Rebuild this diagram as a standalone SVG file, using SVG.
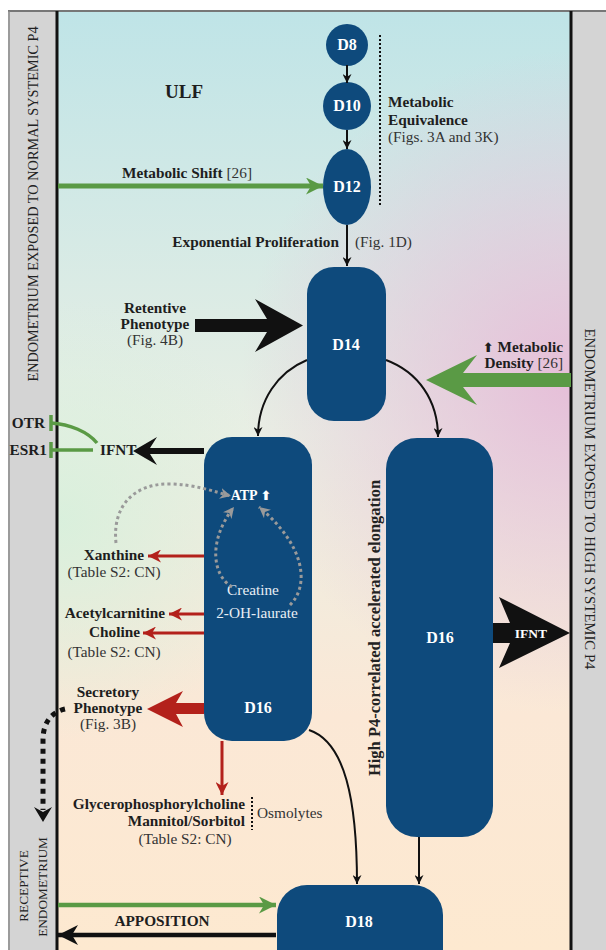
<svg xmlns="http://www.w3.org/2000/svg" width="606" height="950" viewBox="0 0 606 950">
<defs>
<style>
.t{font-family:"Liberation Serif","Times New Roman",serif;fill:#1e1e1e;font-size:15.3px}
.b{font-weight:bold}
.n{font-weight:normal;fill:#333}
.w{fill:#fff;font-weight:bold}
.node{fill:#0e4a7c}
.c{fill:none;stroke:#111;stroke-width:2}
.red{fill:none;stroke:#b3211b;stroke-width:3}
.gd{fill:none;stroke:#9a9a9a;stroke-width:3;stroke-dasharray:3 3}
.band{font-family:"Liberation Serif","Times New Roman",serif;fill:#222;font-size:14.3px}
</style>
<linearGradient id="bg" x1="0" y1="0" x2="0" y2="1">
<stop offset="0" stop-color="#bfe4e7"/>
<stop offset="0.45" stop-color="#e9efe4"/>
<stop offset="0.75" stop-color="#fbe8d6"/>
<stop offset="1" stop-color="#fde9d0"/>
</linearGradient>
<radialGradient id="pink" cx="571" cy="380" r="330" gradientUnits="userSpaceOnUse">
<stop offset="0" stop-color="#e6bcd8" stop-opacity="0.95"/>
<stop offset="1" stop-color="#e6bcd8" stop-opacity="0"/>
</radialGradient>
<radialGradient id="grn" cx="60" cy="520" r="220" gradientUnits="userSpaceOnUse">
<stop offset="0" stop-color="#d7f0dc" stop-opacity="0.9"/>
<stop offset="1" stop-color="#d7f0dc" stop-opacity="0"/>
</radialGradient>
<marker id="ah" viewBox="0 0 10 10" refX="10" refY="5" markerWidth="9" markerHeight="9" markerUnits="userSpaceOnUse" orient="auto">
<path d="M0,0 L10,5 L0,10 L3,5 Z" fill="#111"/>
</marker>
<marker id="ar" viewBox="0 0 10 10" refX="10" refY="5" markerWidth="15" markerHeight="13" markerUnits="userSpaceOnUse" orient="auto">
<path d="M0,0 L10,5 L0,10 L3,5 Z" fill="#b3211b"/>
</marker>
<marker id="ag" viewBox="0 0 10 10" refX="10" refY="5" markerWidth="11" markerHeight="11" markerUnits="userSpaceOnUse" orient="auto">
<path d="M0,0 L10,5 L0,10 L3,5 Z" fill="#9a9a9a"/>
</marker>
<marker id="agr" viewBox="0 0 10 10" refX="10" refY="5" markerWidth="20" markerHeight="17" markerUnits="userSpaceOnUse" orient="auto">
<path d="M0,0 L10,5 L0,10 L3,5 Z" fill="#5a9a45"/>
</marker>
<marker id="abk" viewBox="0 0 10 10" refX="10" refY="5" markerWidth="20" markerHeight="20" markerUnits="userSpaceOnUse" orient="auto">
<path d="M0,0 L10,5 L0,10 L3,5 Z" fill="#111"/>
</marker>
</defs>

<g id="frame">
<rect x="0" y="0" width="606" height="950" fill="#fff"/>
<rect x="57" y="11" width="514" height="939" fill="url(#bg)"/>
<rect x="57" y="11" width="514" height="939" fill="url(#pink)"/>
<rect x="57" y="11" width="514" height="939" fill="url(#grn)"/>
<rect x="8" y="11" width="49" height="939" fill="#d4d4d4"/>
<rect x="571" y="11" width="35" height="939" fill="#d4d4d4"/>
<line x1="8" y1="11" x2="606" y2="11" stroke="#777" stroke-width="2"/>
<line x1="9" y1="11" x2="9" y2="950" stroke="#888" stroke-width="1.5"/>
<line x1="57" y1="11" x2="57" y2="950" stroke="#111" stroke-width="3"/>
<line x1="571" y1="11" x2="571" y2="950" stroke="#111" stroke-width="3"/>
<text class="band" transform="translate(38,204) rotate(-90)" text-anchor="middle">ENDOMETRIUM EXPOSED TO NORMAL SYSTEMIC P4</text>
<text class="band" style="font-size:14.8px" transform="translate(585,499) rotate(90)" text-anchor="middle">ENDOMETRIUM EXPOSED TO HIGH SYSTEMIC P4</text>
<text class="band" style="font-size:13.3px" transform="translate(28,886) rotate(-90)" text-anchor="middle">RECEPTIVE</text>
<text class="band" style="font-size:13.3px" transform="translate(47,887) rotate(-90)" text-anchor="middle">ENDOMETRIUM</text>
</g>

<g id="D8"><circle class="node" cx="347" cy="45" r="21"/><text class="t w" x="347" y="50" text-anchor="middle" style="font-size:16px">D8</text></g>
<g id="D10"><circle class="node" cx="347" cy="106" r="24"/><text class="t w" x="347" y="111" text-anchor="middle" style="font-size:16px">D10</text></g>
<g id="D12"><ellipse class="node" cx="347" cy="187" rx="24" ry="38"/><text class="t w" x="347" y="192" text-anchor="middle" style="font-size:16px">D12</text></g>
<g id="D14"><rect class="node" x="307" y="267" width="79" height="154" rx="27"/><text class="t w" x="346" y="350" text-anchor="middle" style="font-size:16px">D14</text></g>
<g id="D16a"><rect class="node" x="204" y="437" width="108" height="304" rx="28"/><text class="t w" x="258" y="713" text-anchor="middle" style="font-size:16px">D16</text>
<text class="t w" x="251" y="500" text-anchor="middle" style="font-size:14px">ATP <tspan font-family="DejaVu Sans,sans-serif" font-size="13">⬆</tspan></text>
<text class="t" x="253" y="595" text-anchor="middle" style="fill:#e8eef5">Creatine</text>
<text class="t" x="257" y="618" text-anchor="middle" style="fill:#e8eef5">2-OH-laurate</text></g>
<g id="D16b"><rect class="node" x="386" y="438" width="107" height="399" rx="31"/><text class="t w" x="440" y="643" text-anchor="middle" style="font-size:16px">D16</text></g>
<g id="D18"><rect class="node" x="277" y="885" width="166" height="100" rx="30"/><text class="t w" x="359" y="927" text-anchor="middle" style="font-size:16px">D18</text></g>

<g id="connectors">
<line class="c" x1="347" y1="65" x2="347" y2="83" marker-end="url(#ah)"/>
<line class="c" x1="347" y1="130" x2="347" y2="149" marker-end="url(#ah)"/>
<line class="c" x1="347" y1="225" x2="347" y2="266" marker-end="url(#ah)"/>
<path class="c" d="M307,360 C278,372 258,400 258,436" marker-end="url(#ah)"/>
<path class="c" d="M386,360 C418,372 438,400 438,437" marker-end="url(#ah)"/>
<path class="c" d="M309,730 C345,742 357,800 357,884" marker-end="url(#ah)"/>
<line class="c" x1="419" y1="837" x2="419" y2="884" marker-end="url(#ah)"/>
<line x1="380" y1="35" x2="380" y2="207" stroke="#111" stroke-width="2" stroke-dasharray="2 2"/>
<line x1="252" y1="797" x2="252" y2="830" stroke="#111" stroke-width="2" stroke-dasharray="2 2"/>
<line x1="58" y1="186" x2="323" y2="186" stroke="#5a9a45" stroke-width="5" marker-end="url(#agr)"/>
<path d="M195,319 H267 L255,299 L303,325.5 L255,352 L267,332 H195 Z" fill="#111"/>
<path d="M571,373 H463 L477,355 L426,380 L477,405 L463,387 H571 Z" fill="#5a9a45"/>
<path d="M204,448 H150 L157,437 L133,451 L157,465 L150,454 H204 Z" fill="#111"/>
<path d="M493,623 H510 L499,597 L570,633 L499,668 L510,643 H493 Z" fill="#111"/>
<g stroke="#5a9a45" stroke-width="3.5" fill="none">
<line x1="51" y1="415" x2="51" y2="431"/>
<line x1="51" y1="442" x2="51" y2="458"/>
<line x1="51" y1="450" x2="93" y2="450"/>
<path d="M51,423 C70,424 88,432 97,443"/>
</g>
<line class="red" x1="204" y1="556" x2="148" y2="556" marker-end="url(#ar)"/>
<line class="red" x1="204" y1="614" x2="169" y2="614" marker-end="url(#ar)"/>
<line class="red" x1="204" y1="633" x2="143" y2="633" marker-end="url(#ar)"/>
<path d="M204,703 H176 L183,691 L147,709 L183,727 L176,714 H204 Z" fill="#b3211b"/>
<line class="red" x1="222" y1="741" x2="222" y2="795" marker-end="url(#ar)"/>
<path class="gd" d="M116,543 C112,505 135,484 168,484 C195,484 215,492 231,496" marker-end="url(#ag)"/>
<path class="gd" d="M232,587 C212,575 208,540 234,507" marker-end="url(#ag)"/>
<path class="gd" d="M290,605 C310,585 305,545 259,507" marker-end="url(#ag)"/>
<path d="M65,709 C52,712 43,722 43,740 L43,810" fill="none" stroke="#111" stroke-width="5" stroke-dasharray="5 5"/>
<path d="M34,807 L43,822 L52,807 L43,812 Z" fill="#111"/>
<line x1="58" y1="905" x2="276" y2="905" stroke="#5a9a45" stroke-width="4.5" marker-end="url(#agr)"/>
<line x1="276" y1="935" x2="58" y2="935" stroke="#111" stroke-width="4.5" marker-end="url(#abk)"/>
</g>

<g id="labels">
<text class="t b" x="165" y="98" style="font-size:19px">ULF</text>
<text class="t b" x="388" y="107">Metabolic</text>
<text class="t b" x="388" y="125">Equivalence</text>
<text class="t n" x="388" y="142">(Figs. 3A and 3K)</text>
<text class="t" x="187" y="178" text-anchor="middle"><tspan class="b">Metabolic Shift</tspan><tspan class="n"> [26]</tspan></text>
<text class="t b" x="339" y="247" text-anchor="end">Exponential Proliferation</text>
<text class="t n" x="355" y="247">(Fig. 1D)</text>
<text class="t b" x="155" y="313" text-anchor="middle">Retentive</text>
<text class="t b" x="155" y="329" text-anchor="middle">Phenotype</text>
<text class="t n" x="155" y="345" text-anchor="middle">(Fig. 4B)</text>
<text class="t b" x="563" y="352" text-anchor="end"><tspan font-family="DejaVu Sans,sans-serif" font-size="13">⬆</tspan> Metabolic</text>
<text class="t" x="563" y="368" text-anchor="end"><tspan class="b">Density</tspan><tspan class="n"> [26]</tspan></text>
<text class="t b" x="100" y="455">IFNT</text>
<text class="t b" x="45" y="428" text-anchor="end">OTR</text>
<text class="t b" x="47" y="455" text-anchor="end">ESR1</text>
<text class="t w" x="531" y="638" text-anchor="middle" style="font-size:13.5px">IFNT</text>
<text class="t b" transform="translate(380,628) rotate(-90)" text-anchor="middle" style="fill:#222;font-size:16.5px">High P4-correlated accelerated elongation</text>
<text class="t b" x="144" y="560" text-anchor="end">Xanthine</text>
<text class="t n" x="114" y="577" text-anchor="middle">(Table S2: CN)</text>
<text class="t b" x="165" y="618" text-anchor="end">Acetylcarnitine</text>
<text class="t b" x="140" y="637" text-anchor="end">Choline</text>
<text class="t n" x="114" y="657" text-anchor="middle">(Table S2: CN)</text>
<text class="t b" x="108" y="697" text-anchor="middle">Secretory</text>
<text class="t b" x="108" y="713" text-anchor="middle">Phenotype</text>
<text class="t n" x="108" y="729" text-anchor="middle">(Fig. 3B)</text>
<text class="t b" x="245" y="809" text-anchor="end">Glycerophosphorylcholine</text>
<text class="t b" x="245" y="826" text-anchor="end">Mannitol/Sorbitol</text>
<text class="t n" x="185" y="844" text-anchor="middle">(Table S2: CN)</text>
<text class="t n" x="257" y="818">Osmolytes</text>
<text class="t b" x="162" y="926" text-anchor="middle">APPOSITION</text>
</g>
</svg>
